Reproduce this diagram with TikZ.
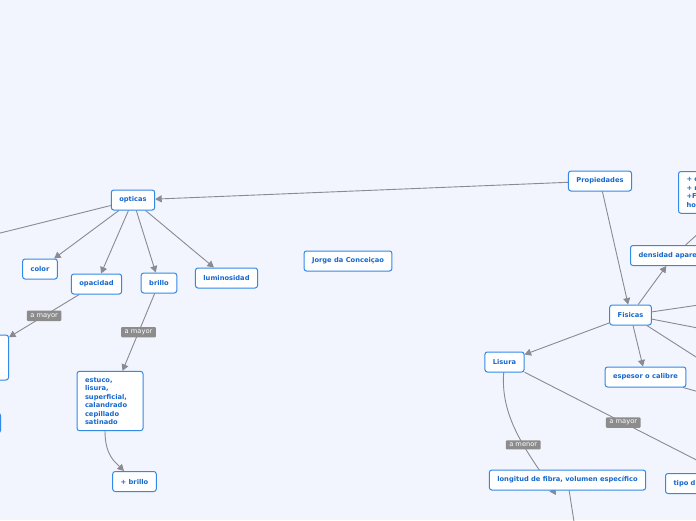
\documentclass[tikz,border=0pt]{standalone}
\usepackage{fontspec}
\setmainfont{DejaVu Sans}
\usetikzlibrary{arrows.meta,positioning,calc,backgrounds}
\definecolor{mapbg}{RGB}{242,245,254}
\definecolor{topicblue}{RGB}{50,138,230}
\definecolor{topictext}{RGB}{22,104,204}
\definecolor{linkgray}{RGB}{138,138,144}
\definecolor{taggray}{RGB}{140,140,140}
\tikzset{
  topic/.style={draw=topicblue,line width=1pt,fill=white,rounded corners=2.5pt,
    text=topictext,font=\bfseries\fontsize{6.7}{8.5}\selectfont,
    minimum height=20pt,inner xsep=8pt,inner ysep=2pt},
  note/.style={topic,align=left,inner ysep=6pt},
  link/.style={draw=linkgray,line width=0.9pt},
  arr/.style={link,-{Triangle[length=6.5pt,width=7pt]}},
  tag/.style={fill=taggray,text=white,font=\fontsize{6.7}{7}\selectfont,
    inner xsep=3.5pt,inner ysep=2.6pt,rounded corners=1pt},
}

\begin{document}
\begin{tikzpicture}[x=1pt,y=-1pt]
  \useasboundingbox (0,0) rectangle (696,520);
  \clip (0,0) rectangle (696,520);
  % left branch
  \node[topic] (opticas) at (133,200) {opticas};
  \node[topic] (color) at (40,269) {color};
  \node[topic] (opacidad) at (96.5,284) {opacidad};
  \node[topic] (brillo) at (159,283) {brillo};
  \node[topic] (luminosidad) at (226.5,278) {luminosidad};
  \node[note,text width=50pt] (estuco) at (110,401)
    {estuco,\\lisura,\\superficial,\\calandrado\\cepillado\\satinado};
  \node[topic] (masbrillo) at (134.5,481.5) {+ brillo};
  \node[topic,anchor=east,minimum width=66pt,minimum height=45pt] (ladoA) at (9,357.5) {};
  \node[topic,anchor=east,minimum width=60pt] (ladoB) at (1,423) {};
  \node[topic] (autor) at (348,261) {Jorge da Conceiçao};
  % right branch
  \node[topic] (propiedades) at (600,181) {Propiedades};
  \node[topic] (fisicas) at (630.5,315) {Fisicas};
  \node[topic,anchor=west] (densidad) at (630,255.5) {densidad aparente};
  \node[note,anchor=north west,text width=114pt] (mas) at (678,171) {+ c\\+ r\\+F\\ho};
  \node[topic] (lisura) at (504.5,362) {Lisura};
  \node[topic] (espesor) at (645.5,377) {espesor o calibre};
  \node[topic] (longitud) at (567.5,480) {longitud de fibra, volumen específico};
  \node[topic,anchor=west,text width=138pt,align=left] (tipo) at (665,483.5) {tipo d};
  % free ends off the page
  \coordinate (fueraO) at (-60,248);
  \coordinate (fueraF1) at (760,296);
  \coordinate (fueraF2) at (760,340);
  \coordinate (fueraF3) at (760,398);
  \coordinate (fueraE) at (760,409);
  \coordinate (fueraL) at (580,560);
  \coordinate (punta) at (556,495);

  \begin{pgfonlayer}{background}
    \clip (0,0) rectangle (696,520);
    \fill[mapbg] (0,0) rectangle (696,520);
    \draw[arr] (propiedades) -- (opticas);
    \draw[link] (opticas) -- (fueraO);
    \foreach \hijo in {color,opacidad,brillo,luminosidad}
      \draw[arr] (opticas) -- (\hijo);
    \draw[arr] (opacidad) -- node[tag,pos=0.5]{a mayor} (ladoA);
    \draw[arr] (brillo) -- node[tag,pos=0.5]{a mayor} (estuco);
    \draw[arr] ($(estuco.south)+(-5,0)$) .. controls (105,455) and (115,462) .. (masbrillo);
    \draw[arr] (propiedades) -- (fisicas);
    \draw[arr] (fisicas) -- (densidad);
    \draw[link] (densidad) -- (mas);
    \draw[arr] (fisicas) -- (lisura);
    \draw[arr] (fisicas) -- (espesor);
    \foreach \fuera in {fueraF1,fueraF2,fueraF3}
      \draw[link] (fisicas) -- (\fuera);
    \draw[link] (espesor) -- (fueraE);
    \draw[arr] (lisura) .. controls (500,420) and (530,455) .. node[tag,pos=0.57]{a menor} (punta);
    \draw[arr] (lisura) -- node[tag,pos=0.5]{a mayor} (tipo);
    \draw[link] (longitud) -- (fueraL);
  \end{pgfonlayer}
\end{tikzpicture}
\end{document}
